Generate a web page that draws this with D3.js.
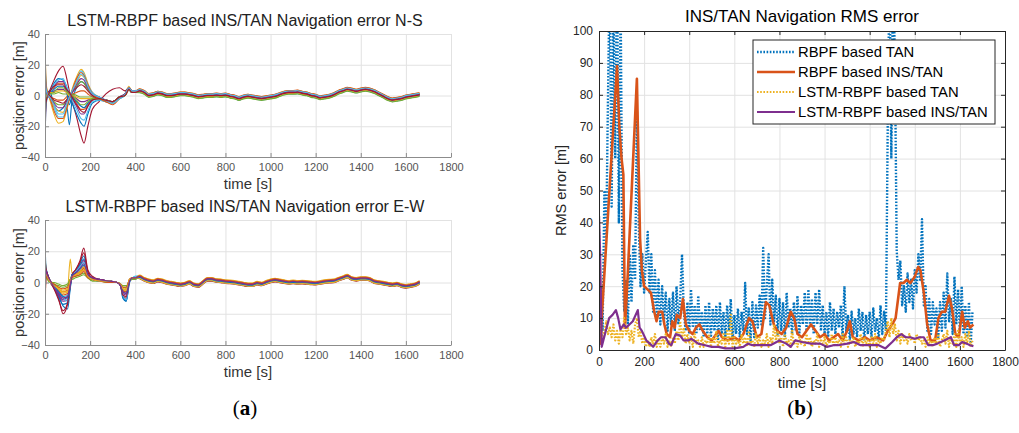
<!DOCTYPE html>
<html>
<head>
<meta charset="utf-8">
<script src="https://cdnjs.cloudflare.com/ajax/libs/d3/7.8.5/d3.min.js"></script>
<style>
body { margin: 0; background: #fff; }
text { font-family: "Liberation Sans", Arial, sans-serif; font-weight: normal; }
</style>
</head>
<body>
<div id="chart"></div>
<script>
// MATLAB default line colours
var colors = ["#0072BD", "#D95319", "#EDB120", "#7E2F8E", "#77AC30", "#4DBEEE", "#A2142F"];

var timeTicks = [0, 200, 400, 600, 800, 1000, 1200, 1400, 1600, 1800];
var posTicks = [-40, -20, 0, 20, 40];
var rmsTicks = [0, 10, 20, 30, 40, 50, 60, 70, 80, 90, 100];

// ---- (a) N-S error, Monte-Carlo runs: early part per run, then shared tail
var nsKnotT = [0, 4, 10, 20, 40, 60, 80, 95, 108, 120, 140, 160, 173, 190, 210, 240, 270, 300, 330, 355, 372, 385, 400];
var nsRuns = [
	[30, 6, 2, 3, -6, -10, -8, -5, -19, -3, 5, 9, 8, 4, 0, -2, -3, -4, -1, 1, 5, 3, 3],
	[-25, -5, -1, 1, 5, 8, 8, 5, 1, 0, -5, -9, -9, -6, -3, -2, -3, -4, -1, 0, 4, 2, 2],
	[40, 10, 3, -2, -12, -18, -17, -10, -3, 4, 12, 17, 15, 8, 2, -1, -4, -5, -2, 1, 6, 3, 3],
	[-10, -2, 0, 1, 3, 4, 4, 2, 0, 1, -2, -4, -4, -3, -2, -2, -3, -4, -1, 0, 4, 2, 2],
	[15, 3, 1, 0, -4, -6, -6, -3, 0, 2, 6, 9, 8, 4, 1, -1, -3, -4, -1, 0, 5, 3, 3],
	[35, 8, 2, -1, -8, -14, -14, -8, -2, 3, 10, 16, 14, 7, 2, -1, -3, -4, -1, 1, 5, 3, 3],
	[-38, -6, 0, 3, 10, 16, 19, 12, 3, -4, -14, -26, -31, -20, -9, -4, 1, 4, 5, 3, 5, 3, 2],
	[22, 5, 1, 2, 8, 11, 10, 6, -2, -5, -12, -18, -20, -12, -5, -3, -4, -5, -2, 0, 4, 2, 2],
	[-18, -4, -1, -1, -2, -3, -3, -1, 1, 1, 2, 3, 3, 1, -1, -2, -3, -4, -1, 0, 4, 2, 3],
	[28, 6, 2, 0, -7, -10, -11, -6, -1, 3, 8, 13, 12, 6, 1, -2, -4, -5, -2, 1, 5, 3, 3],
	[-30, -6, -1, 2, 6, 9, 9, 5, 1, -2, -7, -12, -12, -7, -3, -2, -3, -4, -1, 0, 4, 2, 2],
	[8, 2, 0, 1, 1, 2, 1, 1, 0, 1, 0, -1, -1, -1, -1, -2, -3, -4, -1, 0, 4, 2, 2],
	[-35, -8, -2, 0, 7, 10, 11, 6, 2, -3, -9, -15, -16, -10, -4, -3, -4, -5, -2, 0, 4, 2, 2],
	[12, 3, 1, 0, -3, -4, -5, -3, 0, 2, 5, 7, 6, 3, 0, -2, -3, -4, -1, 1, 5, 3, 3],
	[-20, -4, 0, 1, 4, 6, 6, 3, -6, -1, -4, -7, -8, -5, -2, -2, -3, -4, -1, 0, 4, 2, 2],
	[38, 9, 2, -1, -10, -15, -15, -9, -2, 3, 11, 15, 13, 7, 1, -2, -4, -6, -2, 1, 5, 3, 3],
	[-5, -1, 0, 2, 2, 3, 3, 2, 0, 0, -1, -2, -2, -2, -2, -2, -3, -4, -1, 0, 4, 2, 3],
	[20, 4, 1, -1, -5, -8, -8, -4, -1, 2, 7, 11, 10, 5, 1, -1, -3, -4, -1, 1, 5, 3, 3],
	[-14, -3, 0, 1, 2, 5, 5, 3, 1, 0, -3, -6, -6, -4, -2, -2, -3, -4, -1, 0, 4, 2, 2],
	[26, 5, 1, -1, -6, -12, -12, -6, -1, 3, 9, 14, 12, 6, 1, -1, -3, -5, -2, 1, 5, 3, 3],
	[-22, -5, -1, 2, 6, 7, 7, 4, 2, -1, -6, -10, -11, -7, -3, -2, -3, -4, -1, 0, 4, 2, 2]
];
var nsTail = [3, 2, 0, 0.5, 1.5, 1, 0, 0, 0.5, 1,
	1, 0.5, 0, -0.8, -0.5, 0, 0, 0.3, 0, 0.3,
	-0.5, -1, -2, -1, -0.5, -1, -1.5, -2, -1.5, -1,
	-0.5, 0.5, 1.5, 2, 2, 2.2, 1.5, 1, 0, -0.5,
	-1.5, -1, -0.5, 0.5, 2, 3, 4, 3.5, 2.8, 3.5,
	4, 3.5, 2.5, 1, -0.5, -2, -3, -2.5, -2, -1,
	-0.5, 0, 0.5];
var nsOffset = [0.8, -0.5, 1.2, -0.3, 0.4, -1.0, 0.2, -0.7, 0.6, 1.0, -0.2, 0.3, -0.9, 0.5, -0.4, 1.3, -0.6, 0.1, -1.2, 0.9, -0.1];

// ---- (a) E-W error
var ewKnotT = [0, 4, 10, 20, 40, 60, 80, 100, 112, 120, 135, 155, 172, 190, 210, 240, 280, 320, 335, 345, 360, 375, 388, 400];
var ewRuns = [
	[33, 9, 6, 2, -3, -8, -15, -17, -4, 4, 7, 12, 17, 6, 3, 2, 1, 0, -2, -8, -12, 1, 3, 3],
	[-40, 5, 4, 1, -2, -4, -6, -5, 1, 4, 5, 6, 8, 4, 2, 1, 1, 0, -1, -5, -4, 2, 3, 3],
	[20, 7, 5, 2, -1, -3, -5, -4, 15, 6, 6, 7, 9, 4, 2, 1, 1, 0, -1, -3, -4, 2, 3, 3],
	[-20, 6, 4, 1, -3, -7, -11, -9, 0, 5, 6, 8, 10, 5, 2, 1, 1, 0, -2, -6, -6, 1, 3, 3],
	[10, 4, 3, 1, -1, -2, -3, -2, 2, 3, 4, 5, 6, 3, 1, 1, 0, 0, -1, -3, -3, 1, 2, 2],
	[25, 8, 5, 2, -2, -5, -9, -8, 1, 5, 6, 8, 12, 5, 2, 1, 1, 0, -1, -4, -5, 2, 3, 4],
	[-35, 7, 5, 1, -4, -10, -20, -14, -2, 5, 8, 14, 22, 8, 4, 2, 1, 0, -2, -9, -10, 1, 3, 3],
	[15, 10, 6, 2, -3, -9, -14, -13, -3, 4, 7, 11, 15, 6, 3, 2, 1, 0, -2, -10, -12, 0, 3, 3],
	[-10, 5, 4, 1, -2, -5, -8, -7, 0, 4, 5, 7, 9, 4, 2, 1, 1, 0, -1, -5, -6, 2, 3, 3],
	[30, 6, 4, 1, -2, -4, -7, -6, 2, 4, 5, 6, 8, 4, 2, 1, 1, 0, -1, -4, -5, 2, 3, 3],
	[-28, 8, 5, 2, -3, -8, -12, -11, -2, 4, 7, 10, 14, 6, 3, 2, 1, 0, -2, -7, -8, 1, 3, 3],
	[5, 3, 2, 0, 0, -1, -2, -1, 2, 2, 3, 4, 5, 3, 1, 1, 0, 0, -1, -2, -2, 1, 2, 2],
	[-15, 7, 5, 1, -3, -6, -10, -12, -1, 5, 7, 10, 13, 5, 2, 1, 1, 0, -2, -8, -11, 1, 3, 4],
	[18, 9, 6, 2, -4, -11, -18, -13, -1, 5, 8, 13, 19, 7, 3, 2, 1, 0, -2, -8, -9, 1, 3, 3],
	[-5, 6, 4, 1, -2, -6, -9, -10, 0, 5, 6, 9, 11, 5, 2, 1, 1, 0, -1, -6, -7, 1, 3, 3],
	[-25, 4, 3, 1, -1, -3, -4, -3, 1, 3, 4, 5, 7, 3, 2, 1, 0, 0, -1, -3, -3, 2, 3, 3],
	[12, 6, 4, 1, -2, -4, -6, -6, 1, 4, 5, 7, 10, 4, 2, 1, 1, 0, -1, -4, -5, 2, 3, 3],
	[-30, 8, 5, 2, -3, -7, -10, -9, -1, 4, 6, 9, 12, 5, 3, 2, 1, 0, -2, -6, -7, 1, 3, 3]
];
var ewTail = [3.5, 2, 1, 0.5, 1.5, 1, 0, -0.5, -1, -1.5,
	-1, 0, -1.5, -2, 0, 2, 2, 1.2, 1, 0.5,
	0.3, 0, -0.5, -1, -1.5, -1.5, -0.5, -1, 0, 1,
	1.5, 1, 0.5, 0, 0.3, 0, 0.2, 0, -0.3, -0.5,
	0, 0.5, 0.8, 1, 2, 3, 4, 2.5, 2, 2.5,
	2.5, 2, 0.5, 0, -0.5, -1, -1.5, -1, -2, -2.5,
	-2, -1.5, 0];
var ewOffset = [0.6, -0.8, 1.0, -0.3, 0.2, 0.9, -1.1, 0.4, -0.5, 1.2, -0.2, 0.1, -0.7, 0.5, -0.4, 0.8, -0.9, 0.3];

// tail samples every 20 s from 420 s
var tailStart = 420, tailStep = 20;

// ---- (b) RMS error
var rmsStep = 8; // s between samples of the TAN-only series
var rbpfTan = [
	5, 20, 6, 50, 35, 80, 120, 45, 110, 60,
	120, 40, 110, 25, 12, 22, 8, 30, 15, 33,
	22, 75, 40, 20, 30, 18, 28, 37, 18, 30,
	12, 25, 10, 22, 8, 20, 9, 18, 6, 16,
	8, 18, 6, 20, 8, 16, 30, 12, 6, 15,
	5, 19, 7, 14, 5, 17, 6, 12, 4, 14,
	5, 15, 4, 13, 6, 14, 3, 15, 5, 12,
	4, 14, 6, 16, 3, 11, 5, 13, 4, 12,
	6, 21, 5, 13, 3, 15, 4, 14, 7, 17,
	8, 32, 10, 20, 30, 8, 22, 9, 17, 5,
	16, 6, 15, 4, 18, 7, 13, 5, 15, 6,
	17, 5, 14, 8, 18, 6, 19, 7, 16, 5,
	18, 8, 19, 6, 14, 5, 12, 4, 15, 6,
	13, 5, 12, 7, 14, 4, 20, 6, 11, 3,
	12, 5, 10, 4, 13, 6, 12, 3, 11, 5,
	12, 4, 13, 6, 10, 3, 14, 5, 12, 6,
	70, 120, 60, 120, 90, 31, 22, 28, 14, 20,
	12, 24, 15, 22, 13, 25, 18, 30, 22, 41,
	14, 20, 6, 16, 5, 15, 8, 13, 4, 15,
	6, 18, 7, 24, 9, 16, 5, 23, 8, 19,
	6, 20, 5, 14, 4, 15, 2, 12];
var lstmTan = [
	42, 8, 3, 6, 9, 5, 7, 4, 8, 3,
	6, 2, 7, 4, 10, 5, 7, 3, 6, 2,
	8, 10, 4, 6, 2, 4, 1, 3, 1, 4,
	2, 5, 1, 3, 1, 4, 2, 5, 1, 3,
	1, 4, 2, 6, 3, 9, 4, 7, 2, 5,
	2, 4, 1, 5, 2, 3, 1, 4, 1, 3,
	2, 5, 1, 4, 2, 6, 1, 3, 2, 5,
	1, 6, 2, 11, 1, 4, 2, 3, 1, 5,
	2, 4, 1, 6, 2, 3, 1, 5, 2, 4,
	1, 3, 2, 5, 1, 4, 2, 8, 3, 6,
	2, 4, 1, 5, 2, 3, 1, 6, 2, 3,
	1, 4, 2, 3, 1, 5, 2, 4, 1, 3,
	2, 5, 1, 3, 2, 4, 1, 3, 2, 5,
	1, 4, 2, 3, 1, 5, 2, 4, 1, 3,
	2, 4, 1, 3, 2, 5, 1, 4, 2, 3,
	1, 4, 2, 5, 1, 3, 2, 4, 3, 6,
	9, 4, 10, 5, 8, 3, 6, 2, 5, 3,
	4, 2, 5, 3, 4, 2, 5, 3, 4, 2,
	3, 1, 4, 2, 3, 1, 4, 2, 5, 1,
	3, 5, 2, 6, 1, 4, 2, 5, 1, 6,
	2, 4, 1, 5, 2, 6, 1, 3];

var rbpfInsT = [0, 5, 80, 90, 100, 108, 115, 125, 168, 175, 182, 190, 200, 215, 230, 245, 255, 265, 280, 290, 300, 315, 325, 335, 345, 360, 372, 385, 400, 415, 430, 445, 460, 480, 500, 520, 530, 545, 570, 600, 620, 640, 665, 680, 700, 720, 740, 755, 775, 790, 810, 830, 850, 865, 880, 900, 920, 940, 960, 980, 1000, 1020, 1040, 1060, 1080, 1100, 1112, 1125, 1150, 1180, 1200, 1230, 1260, 1280, 1300, 1315, 1335, 1350, 1365, 1380, 1400, 1415, 1425, 1440, 1455, 1470, 1490, 1505, 1520, 1535, 1552, 1565, 1580, 1595, 1610, 1622, 1635, 1645, 1660];
var rbpfIns = [10, 2, 89, 70, 60, 55, 7, 20, 85, 60, 35, 25, 20, 19, 18, 12, 9, 12, 12, 8, 5, 4, 9, 7, 11, 10, 16, 8, 6, 5, 7, 8, 6, 4, 3, 5, 6, 4, 3, 4, 3, 5, 10, 9, 4, 5, 15, 14, 8, 6, 5, 7, 12, 10, 5, 4, 6, 8, 6, 4, 5, 3, 4, 5, 3, 6, 9, 4, 3, 4, 3, 4, 3, 6, 8, 10, 21, 21, 22, 21, 23, 26, 25, 18, 8, 3, 3, 10, 12, 12, 17, 13, 5, 4, 12, 7, 9, 7, 8];

var lstmInsT = [0, 5, 12, 30, 45, 60, 75, 85, 95, 110, 120, 135, 150, 172, 180, 190, 210, 225, 240, 260, 275, 295, 310, 320, 340, 360, 375, 395, 410, 440, 470, 500, 530, 560, 600, 640, 660, 680, 720, 760, 800, 830, 850, 870, 900, 940, 980, 1010, 1040, 1060, 1100, 1130, 1160, 1200, 1240, 1270, 1300, 1320, 1340, 1360, 1380, 1400, 1420, 1440, 1460, 1480, 1500, 1530, 1560, 1575, 1595, 1610, 1630, 1645, 1660];
var lstmIns = [42, 30, 1, 6, 10, 11, 12.5, 10, 6.5, 8, 7, 8, 9, 12.5, 7, 6, 3, 2, 1, 3, 4, 4, 2, 1.5, 5, 4.5, 3, 3, 3.5, 2, 1.5, 1, 1, 0.5, 0.5, 1, 2, 1.5, 1.5, 1.5, 3, 2, 1, 3, 2.5, 2, 2, 1, 1.5, 1.5, 2, 2.5, 1.5, 1.5, 1.5, 0.5, 2.5, 4, 5, 4, 4, 3.5, 4, 4, 1.5, 1.5, 2, 3, 4, 1.5, 1.5, 2.5, 2, 1.5, 1.2];

var legendNames = ["RBPF based TAN", "RBPF based INS/TAN", "LSTM-RBPF based TAN", "LSTM-RBPF based INS/TAN"];

var width = 1019, height = 433;
var svg = d3.select("#chart").append("svg").attr("width", width).attr("height", height);
var fmt = d3.format("d");

function styleTicks(sel, fill, size) {
	sel.selectAll("text").attr("fill", fill).style("font-size", size + "px")
		.style("font-family", '"Liberation Sans", Arial, sans-serif');
}

function grid(g, x, y, box, xt, yt) {
	g.append("g").attr("transform", "translate(0," + box.y1 + ")")
		.call(d3.axisBottom(x).tickValues(xt).tickSize(-(box.y1 - box.y0)).tickFormat(""))
		.call(function(s) { s.select(".domain").remove(); })
		.selectAll("line").attr("stroke", "#e2e2e2");
	g.append("g").attr("transform", "translate(" + box.x0 + ",0)")
		.call(d3.axisLeft(y).tickValues(yt).tickSize(-(box.x1 - box.x0)).tickFormat(""))
		.call(function(s) { s.select(".domain").remove(); })
		.selectAll("line").attr("stroke", "#e2e2e2");
}

//  Panel (a): N-S / E-W ensemble
function drawEnsemble(box, id, title, knotT, runs, tail, offsets) {
	var x = d3.scaleLinear().domain([0, 1800]).range([box.x0, box.x1]);
	var y = d3.scaleLinear().domain([-40, 40]).range([box.y1, box.y0]);
	var g = svg.append("g");
	grid(g, x, y, box, timeTicks, posTicks);

	svg.append("clipPath").attr("id", id).append("rect")
		.attr("x", box.x0).attr("y", box.y0)
		.attr("width", box.x1 - box.x0).attr("height", box.y1 - box.y0);

	var line = d3.line().x(function(d) { return x(d[0]); })
		.y(function(d) { return y(d[1]); }).curve(d3.curveMonotoneX);

	var lg = g.append("g").attr("clip-path", "url(#" + id + ")");
	runs.forEach(function(r, i) {
		var pts = knotT.map(function(t, j) { return [t, r[j]]; });
		tail.forEach(function(v, j) { pts.push([tailStart + j * tailStep, v + offsets[i]]); });
		lg.append("path").attr("d", line(pts)).attr("fill", "none")
			.attr("stroke", colors[i % 7]).attr("stroke-width", 1.1);
	});

	var ax = g.append("g").attr("transform", "translate(0," + box.y1 + ")")
		.call(d3.axisBottom(x).tickValues(timeTicks).tickFormat(fmt).tickSizeInner(-4).tickSizeOuter(0).tickPadding(6));
	ax.select(".domain").attr("stroke", "#8c8c8c");
	ax.selectAll("line").attr("stroke", "#8c8c8c");
	styleTicks(ax, "#555", 11);
	var ay = g.append("g").attr("transform", "translate(" + box.x0 + ",0)")
		.call(d3.axisLeft(y).tickValues(posTicks).tickFormat(fmt).tickSizeInner(-4).tickSizeOuter(0).tickPadding(5));
	ay.select(".domain").attr("stroke", "#8c8c8c");
	ay.selectAll("line").attr("stroke", "#8c8c8c");
	styleTicks(ay, "#555", 11);

	g.append("text").attr("x", (box.x0 + box.x1) / 2 - 3).attr("y", box.y0 - 8)
		.attr("text-anchor", "middle").style("font-size", "16px").attr("fill", "#222").text(title);
	g.append("text").attr("x", (box.x0 + box.x1) / 2).attr("y", box.y1 + 32)
		.attr("text-anchor", "middle").style("font-size", "15px").attr("fill", "#333").text("time [s]");
	g.append("text").attr("transform", "translate(19," + (box.y0 + box.y1) / 2 + ")rotate(-90)")
		.attr("text-anchor", "middle").attr("dy", "0.35em").style("font-size", "14.5px")
		.attr("fill", "#333").text("position error [m]");
}

drawEnsemble({x0: 45, x1: 451, y0: 34, y1: 157}, "clipNS",
	"LSTM-RBPF based INS/TAN Navigation error N-S", nsKnotT, nsRuns, nsTail, nsOffset);
drawEnsemble({x0: 45, x1: 451, y0: 220, y1: 345}, "clipEW",
	"LSTM-RBPF based INS/TAN Navigation error E-W", ewKnotT, ewRuns, ewTail, ewOffset);

//  Panel (b): RMS error
(function() {
	var box = {x0: 599, x1: 1005, y0: 31, y1: 350};
	var x = d3.scaleLinear().domain([0, 1800]).range([box.x0, box.x1]);
	var y = d3.scaleLinear().domain([0, 100]).range([box.y1, box.y0]);
	var g = svg.append("g");
	grid(g, x, y, box, timeTicks, rmsTicks);

	svg.append("clipPath").attr("id", "clipRms").append("rect")
		.attr("x", box.x0).attr("y", box.y0)
		.attr("width", box.x1 - box.x0).attr("height", box.y1 - box.y0);

	var line = d3.line().x(function(d) { return x(d[0]); }).y(function(d) { return y(d[1]); });
	var series = [
		{pts: rbpfTan.map(function(v, i) { return [i * rmsStep, v]; }), color: colors[0], w: 2.4, dash: "1.6,1.6"},
		{pts: rbpfInsT.map(function(t, i) { return [t, rbpfIns[i]]; }), color: colors[1], w: 2.6, dash: null},
		{pts: lstmTan.map(function(v, i) { return [i * rmsStep, v]; }), color: colors[2], w: 2.2, dash: "1.6,1.6"},
		{pts: lstmInsT.map(function(t, i) { return [t, lstmIns[i]]; }), color: colors[3], w: 2.2, dash: null}
	];
	var lg = g.append("g").attr("clip-path", "url(#clipRms)");
	series.forEach(function(s) {
		lg.append("path").attr("d", line(s.pts)).attr("fill", "none")
			.attr("stroke", s.color).attr("stroke-width", s.w)
			.attr("stroke-dasharray", s.dash).attr("stroke-linejoin", "round");
	});

	var axCol = "#262626";
	function axStyle(sel, showText) {
		sel.select(".domain").attr("stroke", axCol);
		sel.selectAll("line").attr("stroke", axCol);
		if (showText) styleTicks(sel, axCol, 12); else sel.selectAll("text").remove();
	}
	axStyle(g.append("g").attr("transform", "translate(0," + box.y1 + ")")
		.call(d3.axisBottom(x).tickValues(timeTicks).tickFormat(fmt).tickSizeInner(-4).tickSizeOuter(0).tickPadding(7)), true);
	axStyle(g.append("g").attr("transform", "translate(0," + box.y0 + ")")
		.call(d3.axisTop(x).tickValues(timeTicks).tickSizeInner(-4).tickSizeOuter(0)), false);
	axStyle(g.append("g").attr("transform", "translate(" + box.x0 + ",0)")
		.call(d3.axisLeft(y).tickValues(rmsTicks).tickFormat(fmt).tickSizeInner(-4).tickSizeOuter(0).tickPadding(6)), true);
	axStyle(g.append("g").attr("transform", "translate(" + box.x1 + ",0)")
		.call(d3.axisRight(y).tickValues(rmsTicks).tickSizeInner(-4).tickSizeOuter(0)), false);

	g.append("text").attr("x", (box.x0 + box.x1) / 2).attr("y", 22)
		.attr("text-anchor", "middle").style("font-size", "17px").attr("fill", "#000")
		.text("INS/TAN Navigation RMS error");
	g.append("text").attr("x", (box.x0 + box.x1) / 2).attr("y", 388)
		.attr("text-anchor", "middle").style("font-size", "15px").attr("fill", axCol).text("time [s]");
	g.append("text").attr("transform", "translate(561," + (box.y0 + box.y1) / 2 + ")rotate(-90)")
		.attr("text-anchor", "middle").attr("dy", "0.35em").style("font-size", "14.5px")
		.attr("fill", axCol).text("RMS error [m]");

	// legend
	var leg = g.append("g");
	leg.append("rect").attr("x", 753).attr("y", 40).attr("width", 242).attr("height", 84)
		.attr("fill", "#fff").attr("stroke", axCol).attr("stroke-width", 1);
	legendNames.forEach(function(name, i) {
		var s = series[i], yy = 52 + i * 20;
		leg.append("line").attr("x1", 757).attr("x2", 795).attr("y1", yy).attr("y2", yy)
			.attr("stroke", s.color).attr("stroke-width", s.w).attr("stroke-dasharray", s.dash);
		leg.append("text").attr("x", 798).attr("y", yy).attr("dy", "0.36em")
			.style("font-size", "14.8px").attr("fill", "#000").text(name);
	});
})();

// sub-figure labels
svg.append("text").attr("x", 245).attr("y", 415).attr("text-anchor", "middle")
	.style("font-family", '"Liberation Serif", "DejaVu Serif", serif').style("font-size", "21px")
	.html('(<tspan font-weight="bold">a</tspan>)');
svg.append("text").attr("x", 800).attr("y", 415).attr("text-anchor", "middle")
	.style("font-family", '"Liberation Serif", "DejaVu Serif", serif').style("font-size", "21px")
	.html('(<tspan font-weight="bold">b</tspan>)');
</script>
</body>
</html>
